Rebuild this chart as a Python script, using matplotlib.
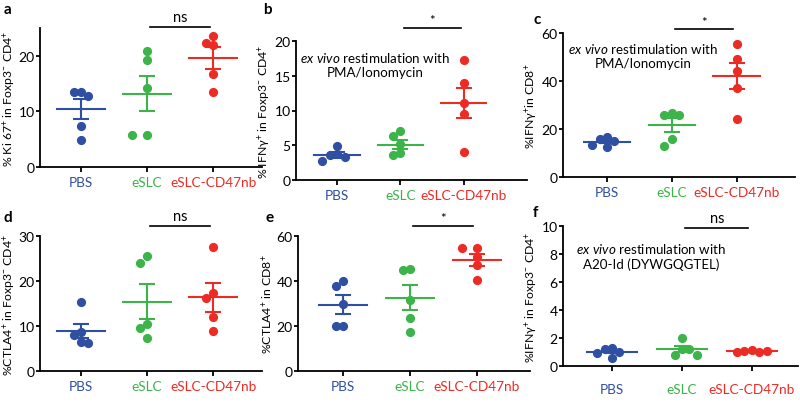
import matplotlib
matplotlib.use("Agg")
import matplotlib.pyplot as plt
import numpy as np

# ---------------------------------------------------------------------------
# Data
# ---------------------------------------------------------------------------
groups = ["PBS", "eSLC", "eSLC-CD47nb"]

ki67 = [[13.5, 13.5, 12.7, 7.3, 4.8],
        [20.8, 19.3, 14.2, 5.8, 5.8],
        [23.5, 22.3, 21.9, 16.8, 13.5]]
ki67_mean = [10.4, 13.2, 19.6]
ki67_sem = [1.8, 3.2, 1.9]

ifng_cd4_pma = [[4.9, 3.8, 3.6, 3.3, 2.8],
                [7.0, 6.4, 5.2, 3.9, 3.6],
                [17.2, 13.9, 11.1, 9.5, 4.0]]
ifng_cd4_pma_mean = [3.6, 5.1, 11.1]
ifng_cd4_pma_sem = [0.4, 0.7, 2.2]

ifng_cd8 = [[16.5, 16.0, 15.0, 13.5, 12.5],
            [26.5, 26.0, 26.0, 16.0, 13.0],
            [55.5, 49.0, 44.0, 37.0, 24.0]]
ifng_cd8_mean = [14.7, 21.6, 42.0]
ifng_cd8_sem = [0.7, 3.0, 5.3]

ctla4_cd4 = [[15.3, 8.6, 7.9, 6.5, 6.3],
             [25.6, 24.0, 10.5, 9.6, 7.4],
             [27.6, 17.3, 16.3, 12.0, 8.9]]
ctla4_cd4_mean = [8.9, 15.4, 16.4]
ctla4_cd4_sem = [1.6, 3.9, 3.2]

ctla4_cd8 = [[39.8, 38.0, 30.0, 20.2, 19.8],
             [45.5, 44.8, 31.5, 23.5, 17.5],
             [54.5, 54.5, 50.5, 47.0, 40.5]]
ctla4_cd8_mean = [29.5, 32.5, 49.2]
ctla4_cd8_sem = [4.2, 5.6, 2.6]

ifng_cd4_a20 = [[1.3, 1.2, 1.0, 0.9, 0.6],
                [2.0, 1.2, 1.2, 0.8, 0.8],
                [1.15, 1.1, 1.0, 1.0, 1.1]]
ifng_cd4_a20_mean = [1.0, 1.2, 1.07]
ifng_cd4_a20_sem = [0.1, 0.2, 0.04]

# ---------------------------------------------------------------------------
# Style
# ---------------------------------------------------------------------------
COLORS = ["#2f4fa3", "#3cb44a", "#ec2b24"]
W, H = 800, 406

plt.rcParams.update({
    "font.family": ["Lato", "DejaVu Sans"],
    "font.size": 10,
    "mathtext.fontset": "custom",
    "mathtext.rm": "Lato",
    "mathtext.it": "Lato:italic",
    "axes.linewidth": 1.3,
    "xtick.major.width": 1.3,
    "ytick.major.width": 1.3,
    "xtick.major.size": 3.5,
    "ytick.major.size": 3,
})

fig = plt.figure(figsize=(W / 100, H / 100), dpi=100)


def px_axes(left, top, right, bottom):
    return fig.add_axes([left / W, 1 - bottom / H, (right - left) / W, (bottom - top) / H])


def dot_plot(ax, data, means, sems, xlim, ylim, yticks, ylabel, sig, sig_y,
             note=None, xpad=3, label_x=None):
    ax.set_xlim(*xlim)
    ax.set_ylim(*ylim)
    ax.set_yticks(yticks)
    ax.set_xticks([1, 2, 3])
    ax.set_xticklabels(groups, fontsize=9.8)
    for lab, c in zip(ax.get_xticklabels(), COLORS):
        lab.set_color(c)
    ax.tick_params(axis="y", labelsize=10, pad=0.8)
    ax.tick_params(axis="x", pad=xpad)
    for s in ("top", "right"):
        ax.spines[s].set_visible(False)
    ax.set_ylabel(ylabel, fontsize=8.8, labelpad=1)
    if label_x is not None:
        # right edge of the rotated label, in figure pixels
        bb = ax.get_position()
        ax.yaxis.set_label_coords((label_x / W - bb.x0) / bb.width, 0.5)
    ax.patch.set_alpha(0)

    fig.canvas.draw()
    ms = 5.6
    ms_px = ms * 100 / 72
    ux = ax.transData.transform((1, 0))[0] - ax.transData.transform((0, 0))[0]
    for i, (vals, m, se) in enumerate(zip(data, means, sems)):
        x0 = i + 1
        # simple swarm: spread dots sideways when they collide
        xs = []
        pts = []
        for v in vals:
            py = ax.transData.transform((0, v))[1]
            for step in [0, -1, 1, -2, 2, -3, 3]:
                cx = x0 + step * (ms_px * 0.95) / ux
                cp = np.array([cx * ux, py])
                if all(np.hypot(*(cp - q)) >= ms_px * 0.95 for q in pts):
                    break
            pts.append(cp)
            xs.append(cx)
        c = COLORS[i]
        ax.plot(xs, vals, "o", ms=ms, color=c, mec=c, zorder=3, clip_on=False)
        ax.plot([x0 - 0.36, x0 + 0.36], [m, m], color=c, lw=1.5, zorder=4)
        ax.errorbar([x0], [m], yerr=[se], color=c, lw=1.5, capsize=6,
                    capthick=1.5, zorder=4)

    # significance bracket between eSLC and eSLC-CD47nb
    ax.plot([2.05, 2.95], [sig_y, sig_y], color="black", lw=1.2, clip_on=False)
    ax.annotate(sig, (2.5, sig_y), xytext=(0, 2 if sig == "ns" else 1),
                textcoords="offset points", ha="center", va="bottom",
                fontsize=10.5 if sig == "ns" else 9.5, annotation_clip=False)

    if note is not None:
        ax.text(note[1], note[2], r"$\it{ex\ vivo}$ restimulation with" + "\n" + note[0],
                ha="center", va="center", fontsize=9.6, linespacing=1.2)


ax_a = px_axes(40, 29, 262, 168)
dot_plot(ax_a, ki67, ki67_mean, ki67_sem, (0.38, 3.74), (0, 25), [0, 10, 20],
         r"% Ki 67$^{+}$ in Foxp3$^{-}$ CD4$^{+}$", "ns", 25.2, label_x=18)

ax_b = px_axes(296, 42, 527, 181)
dot_plot(ax_b, ifng_cd4_pma, ifng_cd4_pma_mean, ifng_cd4_pma_sem, (0.35, 4.0),
         (0, 20), [0, 5, 10, 15, 20],
         r"% IFNγ$^{+}$ in Foxp3$^{-}$ CD4$^{+}$", "*", 21.9,
         note=("PMA/Ionomycin", 1.6, 16.7))

ax_c = px_axes(563, 34, 795, 178)
dot_plot(ax_c, ifng_cd8, ifng_cd8_mean, ifng_cd8_sem, (0.32, 3.9), (0, 60),
         [0, 20, 40, 60],
         r"%IFNγ$^{+}$in CD8$^{+}$", "*", 61.5,
         note=("PMA/Ionomycin", 1.55, 51))

ax_d = px_axes(40, 237, 262, 372)
dot_plot(ax_d, ctla4_cd4, ctla4_cd4_mean, ctla4_cd4_sem, (0.38, 3.74), (0, 30),
         [0, 10, 20, 30],
         r"%CTLA4$^{+}$ in Foxp3$^{-}$ CD4$^{+}$", "ns", 32.2, label_x=18)

ax_e = px_axes(298, 237, 530, 372)
dot_plot(ax_e, ctla4_cd8, ctla4_cd8_mean, ctla4_cd8_sem, (0.32, 3.8), (0, 60),
         [0, 20, 40, 60],
         r"%CTLA4$^{+}$ in CD8$^{+}$", "*", 64.5)

ax_f = px_axes(563, 227, 798, 367)
dot_plot(ax_f, ifng_cd4_a20, ifng_cd4_a20_mean, ifng_cd4_a20_sem, (0.3, 3.66),
         (0, 10), [0, 2, 4, 6, 8, 10],
         r"%IFNγ$^{+}$ in Foxp3$^{-}$ CD4$^{+}$", "ns", 9.85,
         note=("A20-Id (DYWGQGTEL)", 1.56, 7.9), xpad=9)

# panel letters
for letter, x, y in [("a", 4, 10), ("b", 263, 10), ("c", 533, 20),
                     ("d", 3, 218), ("e", 265, 218), ("f", 533, 213)]:
    fig.text(x / W, 1 - y / H, letter, fontsize=11, fontweight="bold",
             ha="left", va="center")

fig.savefig("out.png", dpi=100)
